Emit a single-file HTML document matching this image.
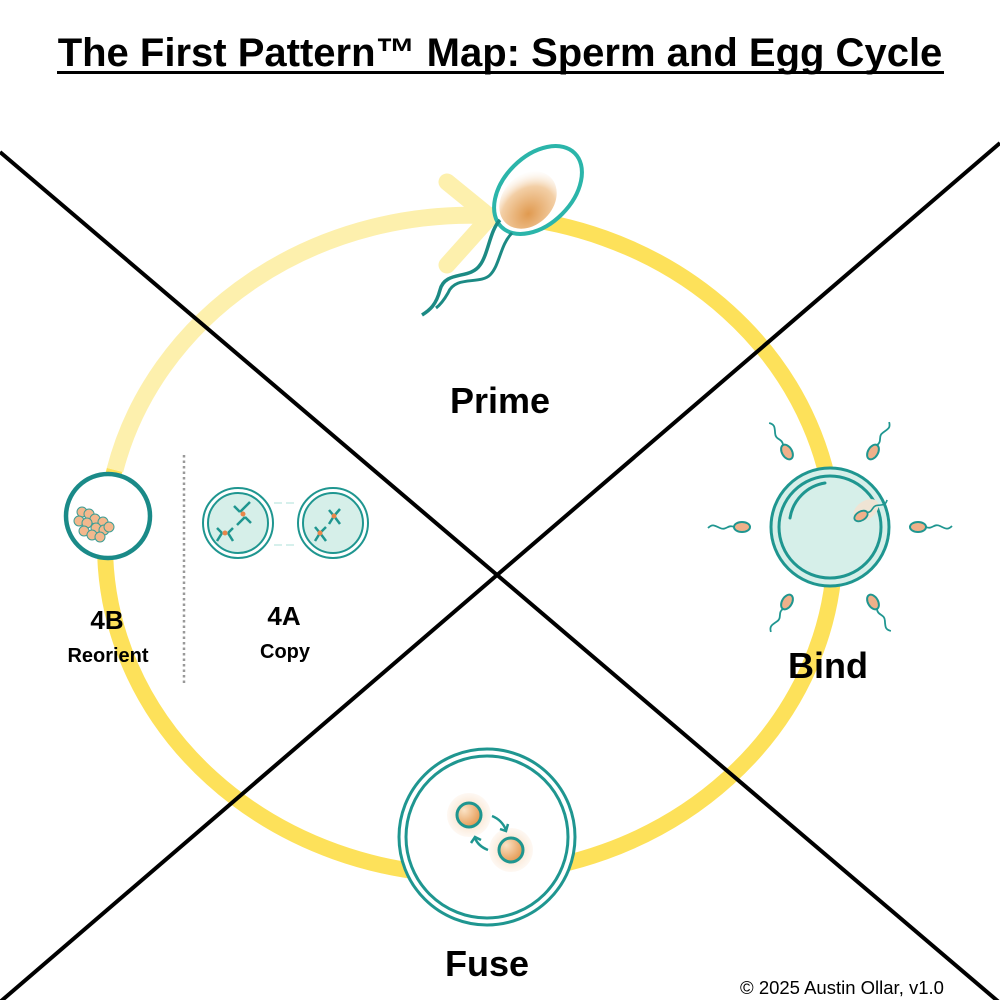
<!DOCTYPE html>
<html><head><meta charset="utf-8"><style>
html,body{margin:0;padding:0;background:#fff;}
svg{display:block;}
text{font-family:"Liberation Sans",sans-serif;font-weight:bold;fill:#000;}
</style></head><body>
<svg width="1000" height="1000" viewBox="0 0 1000 1000" xmlns="http://www.w3.org/2000/svg">
<defs>
<radialGradient id="og" cx="0.35" cy="0.7" r="0.8"><stop offset="0" stop-color="#e09a50"/><stop offset="0.6" stop-color="#f3cfa6"/><stop offset="1" stop-color="#fff" stop-opacity="0"/></radialGradient>
<radialGradient id="glow" cx="0.5" cy="0.5" r="0.5"><stop offset="0" stop-color="#f3c89a"/><stop offset="1" stop-color="#fbe8d6" stop-opacity="0.3"/></radialGradient>
<radialGradient id="nuc" cx="0.3" cy="0.3" r="0.8"><stop offset="0" stop-color="#fbe3c6"/><stop offset="1" stop-color="#e3944a"/></radialGradient>
<g id="sp"><path d="M-8,0 c-6,-3 -8,4 -14,1 s-8,-4 -12,0" fill="none" stroke="#1f9690" stroke-width="1.8"/><ellipse cx="0" cy="0" rx="8" ry="5" fill="#f0b08a" stroke="#1f9690" stroke-width="2"/></g>
</defs>
<text x="500" y="66" font-size="40" text-anchor="middle">The First Pattern™ Map: Sperm and Egg Cycle</text>
<rect x="57" y="71" width="887" height="3" fill="#000"/>
<ellipse cx="470" cy="545" rx="365" ry="330" fill="none" stroke="#fde15a" stroke-width="16"/>
<path d="M115,470 A365,330 0 0 1 495,216" fill="none" stroke="#fff" stroke-width="20"/>
<path d="M115,470 A365,330 0 0 1 495,216" fill="none" stroke="#fdf0ad" stroke-width="17"/>
<path d="M447,182 L490,217 L447,265" fill="none" stroke="#fdf0ad" stroke-width="17" stroke-linecap="round" stroke-linejoin="round"/>
<line x1="0" y1="152" x2="1000" y2="1003" stroke="#000" stroke-width="4"/>
<line x1="1000" y1="143" x2="0" y2="1002" stroke="#000" stroke-width="4"/>
<g>
<ellipse cx="538" cy="190" rx="52" ry="34" transform="rotate(-45 538 190)" fill="#fff"/>
<ellipse cx="528" cy="200" rx="32" ry="25" transform="rotate(-45 528 200)" fill="url(#og)"/>
<ellipse cx="538" cy="190" rx="52" ry="34" transform="rotate(-45 538 190)" fill="none" stroke="#2bb5aa" stroke-width="4"/>
<path d="M500,220 C490,230 488,255 480,265 C470,280 445,270 440,290 C436,305 430,310 422,315" fill="none" stroke="#1c8a84" stroke-width="3.5"/>
<path d="M512,233 C500,245 500,265 490,275 C480,285 455,275 448,293 C444,300 440,305 436,308" fill="none" stroke="#1c8a84" stroke-width="3"/>
</g>
<text x="500" y="413" font-size="36" text-anchor="middle">Prime</text>
<g>
<circle cx="830" cy="527" r="59" fill="#d6efe9" stroke="#1f9690" stroke-width="3"/>
<circle cx="830" cy="527" r="51" fill="none" stroke="#1f9690" stroke-width="3"/>
<path d="M790,518 A42,42 0 0 1 825,483" fill="none" stroke="#1f9690" stroke-width="3" stroke-linecap="round"/>
<ellipse cx="866" cy="510" rx="14" ry="9" fill="#efe4d4" transform="rotate(-35 866 510)"/>
<g transform="translate(861,516) rotate(150) scale(0.9)"><use href="#sp"/></g>
<g transform="translate(787,452) rotate(60)"><use href="#sp"/></g>
<g transform="translate(873,452) rotate(120)"><use href="#sp"/></g>
<g transform="translate(742,527) rotate(0)"><use href="#sp"/></g>
<g transform="translate(918,527) rotate(180)"><use href="#sp"/></g>
<g transform="translate(787,602) rotate(-60)"><use href="#sp"/></g>
<g transform="translate(873,602) rotate(-120)"><use href="#sp"/></g>
</g>
<text x="828" y="678" font-size="36" text-anchor="middle">Bind</text>
<circle cx="487" cy="837" r="88" fill="#fff" stroke="#1f9690" stroke-width="3"/>
<circle cx="487" cy="837" r="81" fill="none" stroke="#1f9690" stroke-width="3"/>
<circle cx="469" cy="815" r="22" fill="url(#glow)"/>
<circle cx="511" cy="850" r="22" fill="url(#glow)"/>
<circle cx="469" cy="815" r="12" fill="url(#nuc)" stroke="#1f9690" stroke-width="3"/>
<circle cx="511" cy="850" r="12" fill="url(#nuc)" stroke="#1f9690" stroke-width="3"/>
<path d="M492,816 Q502,820 506,830" fill="none" stroke="#1f9690" stroke-width="2.5"/><path d="M500,829 L506,831 L508,824" fill="none" stroke="#1f9690" stroke-width="2.5"/>
<path d="M488,850 Q478,846 475,838" fill="none" stroke="#1f9690" stroke-width="2.5"/><path d="M471,843 L475,837 L481,840" fill="none" stroke="#1f9690" stroke-width="2.5"/>
<text x="487" y="976" font-size="36" text-anchor="middle">Fuse</text>
<circle cx="108" cy="516" r="42" fill="#fff" stroke="#1a8a88" stroke-width="4.5"/>
<g fill="#f3b88d" stroke="#3c9e96" stroke-width="1">
<circle cx="82" cy="512" r="5"/><circle cx="89" cy="514" r="5"/><circle cx="95" cy="519" r="5"/><circle cx="103" cy="522" r="5"/>
<circle cx="79" cy="521" r="5"/><circle cx="87" cy="523" r="5"/><circle cx="96" cy="528" r="5"/><circle cx="104" cy="530" r="5"/><circle cx="109" cy="527" r="5"/>
<circle cx="84" cy="531" r="5"/><circle cx="92" cy="535" r="5"/><circle cx="100" cy="537" r="5"/>
</g>
<text x="107" y="629" font-size="26" text-anchor="middle">4B</text>
<text x="108" y="662" font-size="20" text-anchor="middle">Reorient</text>
<line x1="184" y1="455" x2="184" y2="685" stroke="#999" stroke-width="2.5" stroke-dasharray="2.5,3"/>
<g fill="#d6efe9" stroke="#1f9690" stroke-width="2">
<circle cx="238" cy="523" r="35" fill="#fff"/><circle cx="238" cy="523" r="30"/>
<circle cx="333" cy="523" r="35" fill="#fff"/><circle cx="333" cy="523" r="30"/>
</g>
<g stroke="#1f9690" stroke-width="2.5">
<path d="M240,512 l10,-10 M240,512 l-6,-6 M245,517 l6,6 M245,517 l-8,8"/>
<path d="M222,533 l-5,-5 M228,533 l5,-5 M222,533 l-5,8 M228,533 l5,8"/>
<path d="M334,516 l-5,-6 M334,516 l6,-7 M334,516 l-5,8 M334,516 l6,8"/>
<path d="M320,533 l-5,-6 M320,533 l6,-6 M320,533 l-5,8 M320,533 l6,8"/>
</g>
<g fill="#e8864a"><circle cx="243" cy="514" r="2.5"/><circle cx="225" cy="533" r="2.5"/><circle cx="334" cy="516" r="2.5"/><circle cx="320" cy="533" r="2.5"/></g>
<g stroke="#c8ebe5" stroke-width="1.5" fill="none"><path d="M282,503 h-8 M286,503 h8 M282,545 h-8 M286,545 h8"/></g>
<text x="284" y="625" font-size="26" text-anchor="middle">4A</text>
<text x="285" y="658" font-size="20" text-anchor="middle">Copy</text>
<text x="842" y="994" font-size="18.5" text-anchor="middle" style="font-weight:normal">© 2025 Austin Ollar, v1.0</text>
</svg>
</body></html>
